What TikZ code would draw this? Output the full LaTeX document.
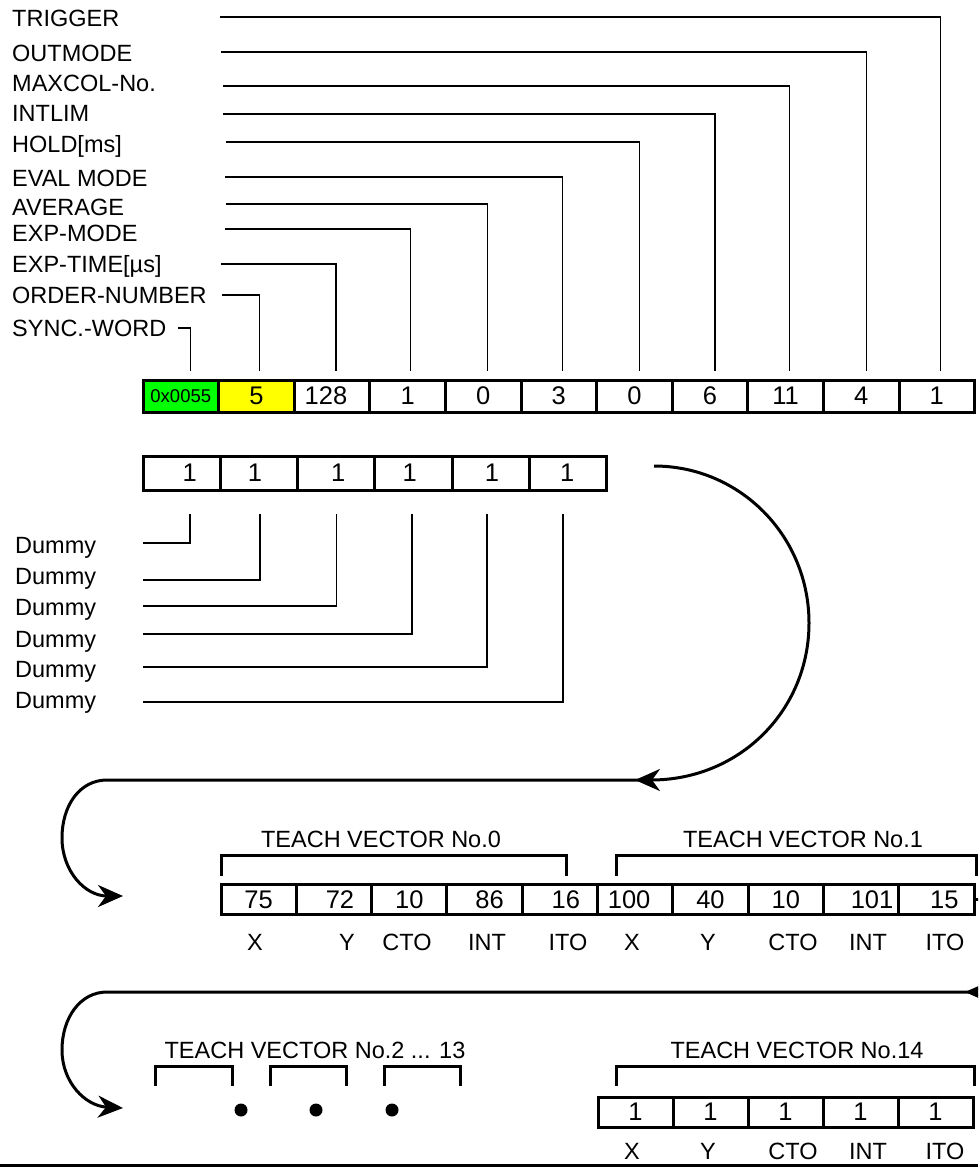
\documentclass[tikz,border=0pt]{standalone}
\usepackage{fontspec}
\setmainfont{Liberation Sans}
\usetikzlibrary{arrows.meta,calc}
\definecolor{regGreen}{RGB}{0,255,0}
\definecolor{regYellow}{RGB}{255,255,0}
\begin{document}
\begin{tikzpicture}[x=1pt,y=-1pt,
  lbl/.style={font=\fontsize{23.5}{28}\selectfont, inner sep=0pt, anchor=base west},
  ctr/.style={font=\fontsize{23.5}{28}\selectfont, inner sep=0pt, anchor=base},
  val/.style={font=\fontsize{25.5}{30}\selectfont, inner sep=0pt},
  cell/.style={draw, line width=3pt, minimum height=32pt, inner sep=0pt, font=\fontsize{25.5}{30}\selectfont},
  conn/.style={line width=1.1pt},
  flow/.style={line width=3pt},
  brk/.style={line width=3pt},
  flowtip/.style={-{Stealth[length=25pt,width=22pt,inset=8pt]}}
]
\useasboundingbox (0,0) rectangle (978,1169);
\clip (0,0) rectangle (978,1169);

% ---------- register row ----------
\node[cell, minimum width=75.6pt, fill=regGreen, font=\fontsize{18.5}{22}\selectfont] (r1) at (180.8,396) {0x0055};
\node[cell, minimum width=75.6pt, fill=regYellow] (r2) at (256.4,396) {5};
\foreach \v/\dx [count=\i from 3] in {128/-6,1/0,0/0,3/0,0/0,6/0,11/0,4/0,1/0}
  \node[cell, minimum width=75.6pt, label={[val,xshift=\dx pt]center:\v}] (r\i) at ({143+75.6*(\i-0.5)},396) {};

% ---------- top labels and connectors ----------
\foreach \t/\yb/\yl/\xs/\dx [count=\i] in
  {SYNC.-WORD/336/328/178/10, ORDER-NUMBER/303/295/222/3, EXP-TIME[µs]/272/264/221/4,
   EXP-MODE/241/229/225/3, AVERAGE/215/204/226/4, EVAL MODE/186/177/225/4,
   HOLD[ms]/153/142/226/5, INTLIM/122/114/223/5, MAXCOL-No./92/86/223/4,
   OUTMODE/62/52/221/5, TRIGGER/27/17/220/4}
{
  \node[lbl] (tl\i) at (12,\yb) {\t};
  \coordinate (ts\i) at (\xs,\yl);
  \draw[conn] (ts\i) -| ([xshift=\dx pt,yshift=8pt]r\i.north);
}

% ---------- dummy row ----------
\foreach \dx [count=\i] in {8,-4,2,-4,1,-1}
  \node[cell, minimum width=77.33pt, minimum height=34pt, label={[val,xshift=\dx pt]center:1}] (d\i) at ({143+77.33*(\i-0.5)},473) {};

\foreach \yb/\yl/\dx [count=\i] in {553/543/8.3, 584/580/1, 615/606/0, 647/634/-1.7, 677/667/-4, 708/702/-5.3}
{
  \node[lbl] (dl\i) at (15,\yb) {Dummy};
  \coordinate (ds\i) at (143,\yl);
  \draw[conn] ([xshift=\dx pt,yshift=-22pt]d\i.south) |- (ds\i);
}

% ---------- flow arrows ----------
\coordinate (fa) at (654,466);
\coordinate (fb) at (635,780);
\coordinate (fb2) at (641,780);
\coordinate (fc) at (123,896);
\draw[flow, flowtip] (fa) .. controls (740,466) and (809,536) .. (809,623)
  .. controls (809,710) and (740,780) .. (fb);
\draw[flow, flowtip] (fb2) -- (107,780) .. controls (80,780) and (62,805) .. (62,838)
  .. controls (62,871) and (85,896) .. (fc);

\coordinate (ga) at (995,992);
\coordinate (gb) at (965,992);
\coordinate (gb2) at (970,992);
\coordinate (gc) at (123,1108);
\draw[flow, flowtip] (ga) -- (gb);
\draw[flow, flowtip] (gb2) -- (107,992) .. controls (80,992) and (62,1018) .. (62,1050)
  .. controls (62,1082) and (85,1106) .. (gc);

% ---------- teach vectors 0 and 1 ----------
\foreach \v/\dx [count=\i] in {75/0,72/6,10/0,86/5,16/6,100/-6,40/0,10/0,101/11,15/8}
  \node[cell, minimum width=75.3pt, minimum height=30pt, label={[val,xshift=\dx pt]center:\v}] (t\i) at ({221+75.3*(\i-0.5)},899.5) {};
\draw[line width=3pt] (t10.east) -- ++(8,0);

\foreach \t/\x [count=\i] in {X/255,Y/347,CTO/407,INT/487,ITO/568,X/632,Y/708,CTO/793,INT/868,ITO/945}
  \node[ctr] (tf\i) at (\x,950) {\t};

\node[ctr] (tv0) at (381,847) {TEACH VECTOR No.0};
\node[ctr] (tv1) at (803,847) {TEACH VECTOR No.1};
\draw[brk] (221,876) -- (221,855) -- (566,855) -- (566,876);
\draw[brk] (616,876) -- (616,855) -- (976,855) -- (976,876);

% ---------- teach vectors 2..13 ----------
\node[ctr] (tv2) at (315,1058) {TEACH VECTOR No.2 ... 13};
\foreach \a/\b in {155/232, 270/346, 384/460}
  \draw[brk] (\a,1086) -- (\a,1066) -- (\b,1066) -- (\b,1086);
\foreach \x [count=\i] in {241,316,392}
  \node[circle, fill=black, inner sep=0pt, minimum size=13pt] (dot\i) at (\x,1110) {};

% ---------- teach vector 14 ----------
\node[ctr] (tv14) at (797,1058) {TEACH VECTOR No.14};
\draw[brk] (616,1086) -- (616,1066) -- (974,1066) -- (974,1086);
\foreach \i in {1,...,5}
  \node[cell, minimum width=75pt, minimum height=30pt] (w\i) at ({598+75*(\i-0.5)},1112) {1};
\foreach \t/\x [count=\i] in {X/632,Y/708,CTO/793,INT/868,ITO/945}
  \node[ctr] (wf\i) at (\x,1159) {\t};

% ---------- bottom rule ----------
\coordinate (bl) at (0,1165);
\coordinate (br) at (978,1165);
\draw[line width=3pt] (bl) -- (br);
\end{tikzpicture}
\end{document}
